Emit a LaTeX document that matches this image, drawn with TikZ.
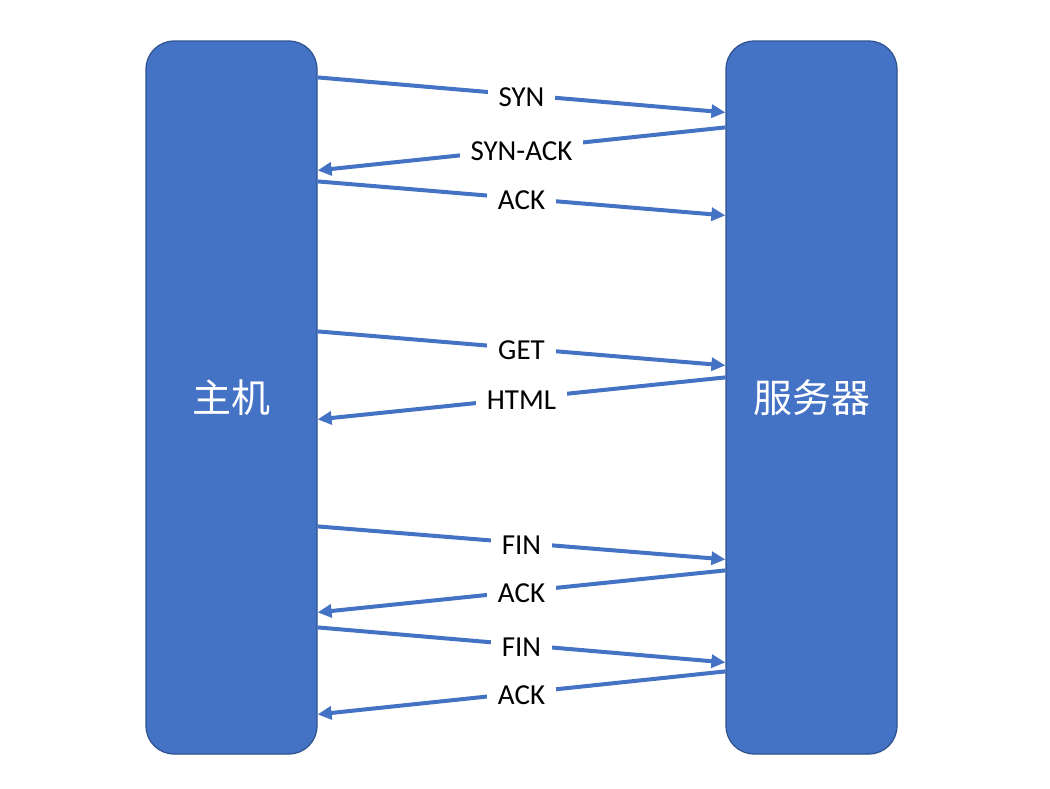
\documentclass[tikz,border=0pt]{standalone}
\usepackage{fontspec}
\setmainfont{Carlito}
\newfontfamily\cjkfont{Noto Sans CJK SC}
\usetikzlibrary{arrows.meta, positioning, calc}
\definecolor{boxfill}{RGB}{68, 114, 196}
\definecolor{boxborder}{RGB}{47, 82, 143}
\definecolor{msgline}{RGB}{68, 114, 196}
\tikzset{
  hostblock/.style={
    rectangle, rounded corners=28pt, draw=boxborder, fill=boxfill, line width=1.2pt,
    minimum width=171pt, minimum height=713pt,
    text=white, font=\cjkfont\fontsize{39}{44}\selectfont
  },
  msgflow/.style={
    draw=msgline, -{Triangle[length=14pt, width=13pt]}, line width=4pt
  },
  msglabel/.style={
    fill=white, inner xsep=11pt, inner ysep=2pt, text=black, yshift=-2pt,
    font=\fontsize{29}{33}\selectfont
  }
}
\begin{document}
\begin{tikzpicture}[x=1pt, y=-1pt]
  \useasboundingbox (0,0) rectangle (1050,788);

  % Endpoints
  \node[hostblock] (host) at (231.5,397.5) {主机};
  \node[hostblock] (server) at (811.5,397.5) {服务器};

  % Connection setup
  \draw[msgflow] ([yshift=-37pt]host.north east) -- ([yshift=-72pt]server.north west)
    node[midway, msglabel] {SYN};
  \draw[msgflow] ([yshift=-87pt]server.north west) -- ([yshift=-130pt]host.north east)
    node[midway, msglabel] {SYN-ACK};
  \draw[msgflow] ([yshift=-141pt]host.north east) -- ([yshift=-175pt]server.north west)
    node[midway, msglabel] {ACK};

  % Request and response
  \draw[msgflow] ([yshift=-291pt]host.north east) -- ([yshift=-325pt]server.north west)
    node[midway, msglabel] {GET};
  \draw[msgflow] ([yshift=-337pt]server.north west) -- ([yshift=-379pt]host.north east)
    node[midway, msglabel] {HTML};

  % Connection teardown
  \draw[msgflow] ([yshift=-486pt]host.north east) -- ([yshift=-519pt]server.north west)
    node[midway, msglabel] {FIN};
  \draw[msgflow] ([yshift=-530pt]server.north west) -- ([yshift=-572pt]host.north east)
    node[midway, msglabel] {ACK};
  \draw[msgflow] ([yshift=-587pt]host.north east) -- ([yshift=-622pt]server.north west)
    node[midway, msglabel] {FIN};
  \draw[msgflow] ([yshift=-631pt]server.north west) -- ([yshift=-674pt]host.north east)
    node[midway, msglabel] {ACK};

\end{tikzpicture}
\end{document}
